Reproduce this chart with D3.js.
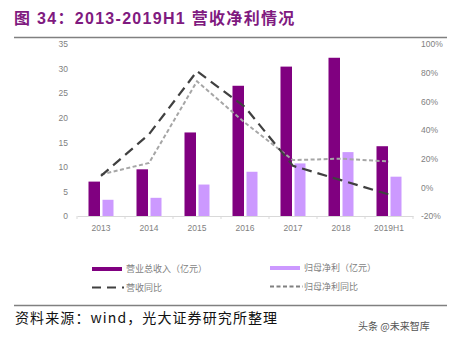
<!DOCTYPE html>
<html>
<head>
<meta charset="utf-8">
<script src="https://cdn.jsdelivr.net/npm/d3@7"></script>
<style>
  html, body { margin: 0; padding: 0; background: #fff; }
  svg { display: block; }
</style>
</head>
<body>
<svg id="chart" width="460" height="341"></svg>
<script>
// Categories and series
const categories = ["2013", "2014", "2015", "2016", "2017", "2018", "2019H1"];
const revenue = [7.0, 9.5, 17.0, 26.5, 30.4, 32.2, 14.2];       // 营业总收入（亿元）
const netProfit = [3.3, 3.7, 6.4, 9.0, 10.7, 13.0, 8.0];        // 归母净利（亿元）
const revenueYoY = [8, 37, 81, 56, 15, 5, -5];                  // 营收同比 (%)
const profitYoY = [9, 17, 74, 45, 19, 20, 18];                  // 归母净利同比 (%)
const leftTicks = [0, 5, 10, 15, 20, 25, 30, 35];
const rightTicks = [-20, 0, 20, 40, 60, 80, 100];

const svg = d3.select("#chart");
const latin = "'Liberation Sans', Arial, 'Noto Sans CJK SC', sans-serif";
const cjk = "'Noto Sans CJK SC', 'Liberation Sans', sans-serif";

const darkPurple = "#800080";
const lightPurple = "#CC99FF";

// Title and rules
svg.append("text")
  .attr("x", 14).attr("y", 24)
  .attr("font-family", latin)
  .attr("font-weight", "bold")
  .attr("font-size", 16)
  .attr("letter-spacing", 1.3)
  .attr("fill", "#7F1A7F")
  .text("图 34：2013-2019H1 营收净利情况");

svg.append("line")
  .attr("x1", 14).attr("x2", 447).attr("y1", 37.5).attr("y2", 37.5)
  .attr("stroke", "#808080").attr("stroke-width", 1.5);

svg.append("line")
  .attr("x1", 14).attr("x2", 447).attr("y1", 305.5).attr("y2", 305.5)
  .attr("stroke", "#808080").attr("stroke-width", 1.5);

// Scales
const x = d3.scaleBand().domain(categories).range([77, 413]);
const yL = d3.scaleLinear().domain([0, 35]).range([216, 44]);
const yR = d3.scaleLinear().domain([-20, 100]).range([216, 44]);

// Category axis
const xAxis = svg.append("g")
  .attr("transform", "translate(0,216)")
  .call(d3.axisBottom(x).tickSize(0).tickPadding(9));
xAxis.select(".domain").attr("stroke", "#D9D9D9");
xAxis.selectAll("text")
  .attr("font-family", latin).attr("font-size", 8.5).attr("fill", "#7F7F7F");

// Boundary tick marks between categories
svg.append("g").selectAll("line")
  .data(d3.range(categories.length + 1))
  .join("line")
  .attr("x1", i => x.range()[0] + i * x.step())
  .attr("x2", i => x.range()[0] + i * x.step())
  .attr("y1", 216).attr("y2", 219)
  .attr("stroke", "#D9D9D9");

// Left value axis
const leftAxis = svg.append("g")
  .attr("transform", "translate(70,0)")
  .call(d3.axisLeft(yL).tickValues(leftTicks).tickSize(0).tickPadding(2));
leftAxis.select(".domain").remove();
leftAxis.selectAll("text")
  .attr("font-family", latin).attr("font-size", 8.5).attr("fill", "#7F7F7F");

// Right percentage axis
const rightAxis = svg.append("g")
  .attr("transform", "translate(419,0)")
  .call(d3.axisRight(yR).tickValues(rightTicks).tickSize(0).tickPadding(2)
    .tickFormat(d => d + "%"));
rightAxis.select(".domain").remove();
rightAxis.selectAll("text")
  .attr("font-family", latin).attr("font-size", 8.5).attr("fill", "#7F7F7F");

// Bars
const cx = d => x(d) + x.bandwidth() / 2;
svg.append("g").selectAll("rect")
  .data(categories)
  .join("rect")
  .attr("x", d => cx(d) - 12.5)
  .attr("width", 11.5)
  .attr("y", (d, i) => yL(revenue[i]))
  .attr("height", (d, i) => yL(0) - yL(revenue[i]))
  .attr("fill", darkPurple);

svg.append("g").selectAll("rect")
  .data(categories)
  .join("rect")
  .attr("x", d => cx(d) + 1.5)
  .attr("width", 11)
  .attr("y", (d, i) => yL(netProfit[i]))
  .attr("height", (d, i) => yL(0) - yL(netProfit[i]))
  .attr("fill", lightPurple);

// Growth lines
const line = vals => d3.line()
  .x((d, i) => cx(categories[i]))
  .y(d => yR(d))(vals);

svg.append("path")
  .attr("d", line(profitYoY))
  .attr("fill", "none")
  .attr("stroke", "#A6A6A6")
  .attr("stroke-width", 2)
  .attr("stroke-dasharray", "4,2.5");

svg.append("path")
  .attr("d", line(revenueYoY))
  .attr("fill", "none")
  .attr("stroke", "#404040")
  .attr("stroke-width", 2.2)
  .attr("stroke-dasharray", "10,6");

// Legend
const legend = svg.append("g");
legend.append("rect").attr("x", 92).attr("y", 267).attr("width", 30).attr("height", 4).attr("fill", darkPurple);
legend.append("rect").attr("x", 270).attr("y", 266).attr("width", 30).attr("height", 4).attr("fill", lightPurple);
legend.append("line").attr("x1", 92).attr("x2", 124).attr("y1", 287.5).attr("y2", 287.5)
  .attr("stroke", "#404040").attr("stroke-width", 2).attr("stroke-dasharray", "9,6");
legend.append("line").attr("x1", 270).attr("x2", 303).attr("y1", 286.5).attr("y2", 286.5)
  .attr("stroke", "#808080").attr("stroke-width", 2).attr("stroke-dasharray", "4,2.5");

const legendItems = [
  { x: 126, y: 272, t: "营业总收入（亿元）" },
  { x: 304, y: 271, t: "归母净利（亿元）" },
  { x: 126, y: 291, t: "营收同比" },
  { x: 304, y: 290, t: "归母净利同比" }
];
legend.selectAll("text")
  .data(legendItems)
  .join("text")
  .attr("x", d => d.x).attr("y", d => d.y)
  .attr("font-family", cjk).attr("font-size", 9).attr("fill", "#7F7F7F")
  .text(d => d.t);

// Source and watermark
svg.append("text")
  .attr("x", 15).attr("y", 323)
  .attr("font-family", cjk).attr("font-size", 14).attr("letter-spacing", 1.1)
  .attr("fill", "#111")
  .text("资料来源：wind，光大证券研究所整理");

svg.append("text")
  .attr("x", 358).attr("y", 330)
  .attr("font-family", cjk).attr("font-size", 10).attr("fill", "#555")
  .text("头条 @未来智库");
</script>
</body>
</html>
